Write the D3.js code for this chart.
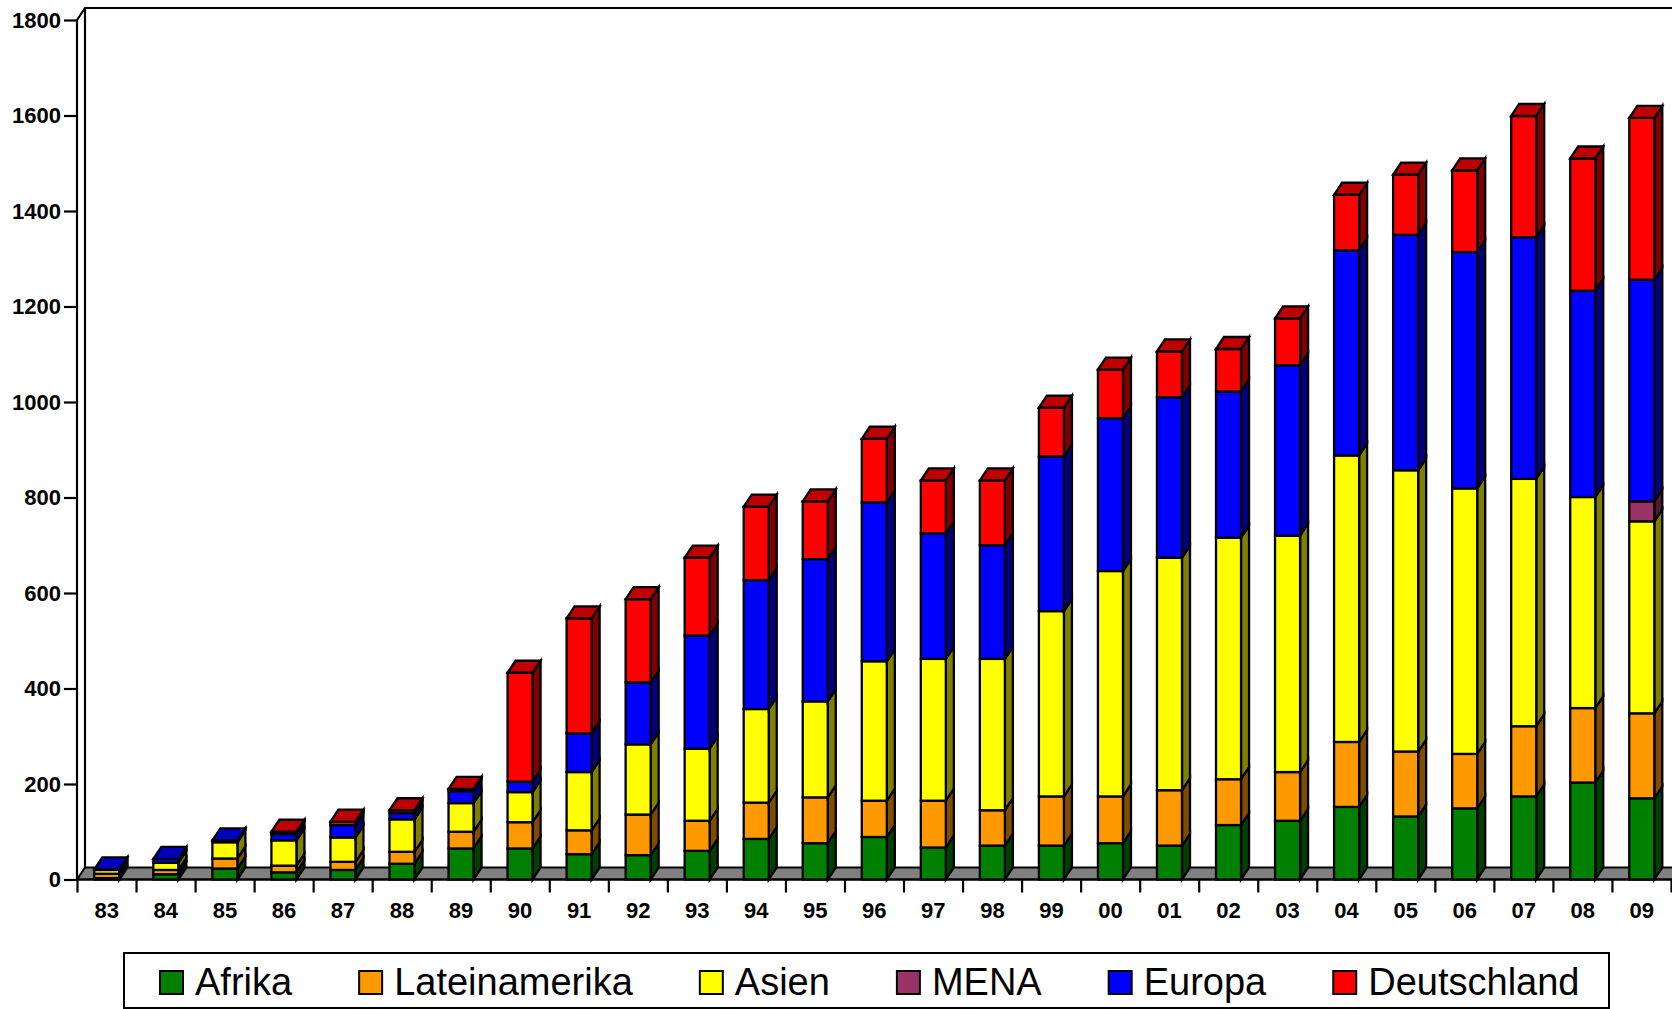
<!DOCTYPE html>
<html>
<head>
<meta charset="utf-8">
<script src="https://cdnjs.cloudflare.com/ajax/libs/d3/7.8.5/d3.min.js"></script>
<style>
	html, body { margin: 0; padding: 0; background: #ffffff; overflow: hidden; }
	svg { display: block; font-family: "Liberation Sans", Arial, sans-serif; }
	.axis text { font-size: 22px; font-weight: bold; fill: #000000; }
	.axis path, .axis line { stroke: #000000; stroke-width: 2.2px; }
	.legend-text { font-size: 38px; fill: #000000; }
</style>
</head>
<body>
<svg id="chart" width="1672" height="1009"></svg>
<script>

const years = ['83','84','85','86','87','88','89','90','91','92','93','94','95','96','97','98','99','00','01','02','03','04','05','06','07','08','09'];

const afrika        = [3,11,23,15,20,33,65,65,53,51,60,85,76,89,67,71,71,76,71,114,123,152,132,149,174,203,170];
const lateinamerika = [9,9,21,14,17,25,35,55,50,85,63,76,96,76,98,74,103,98,116,96,102,136,136,114,147,156,178];
const asien         = [8,15,34,53,51,68,60,63,122,147,151,196,201,292,297,317,388,472,487,506,495,600,589,556,518,442,402];
const mena          = [0,0,0,0,0,0,0,0,0,0,0,0,0,0,0,0,0,0,0,0,0,0,0,0,0,0,42];
const europa        = [1,8,4,13,26,13,25,22,81,130,237,270,298,333,263,238,324,320,336,306,357,430,493,495,506,432,464];
const deutschland   = [0,0,0,5,7,6,5,228,241,174,163,154,121,133,111,136,102,102,96,89,98,116,126,171,254,277,339];

const series_names = ['Afrika','Lateinamerika','Asien','MENA','Europa','Deutschland'];
const series_values = [afrika,lateinamerika,asien,mena,europa,deutschland];
const series_colors = ['#008000','#ff9900','#ffff00','#993366','#0000ff','#ff0000'];

const y_ticks = [0,200,400,600,800,1000,1200,1400,1600,1800];

// depth of the fake 3d
const depth_x = 8, depth_y = 12;

const svg = d3.select('#chart');

const x = d3.scaleBand()
	.domain(years)
	.range([77.3,1671.3])
	.paddingInner(0.576)
	.paddingOuter(0.288);

// tick marks sit between the categories, not on them
const x_edges = d3.scaleLinear()
	.domain([0,years.length])
	.range([77,1671]);

const y = d3.scaleLinear()
	.domain([0,1800])
	.range([879.5,20]);

const shade = function(c,k){
	const rgb = d3.rgb(c);
	return d3.rgb(rgb.r*k,rgb.g*k,rgb.b*k).formatHex();
};

const draw_walls = function(){

	const walls = svg.append('g')
		.attr('fill','none')
		.attr('stroke','#000000')
		.attr('stroke-width',2.2);

	walls.append('path')
		.attr('d',`M${x_edges(0)},${y(0)}L${x_edges(0)+depth_x},${y(0)-depth_y}L1674,${y(0)-depth_y}L1674,${y(0)}Z`)
		.attr('fill','#808080');

	walls.append('path')
		.attr('d',`M${x_edges(0)},${y(1800)}L${x_edges(0)+depth_x},${y(1800)-depth_y}L1674,${y(1800)-depth_y}`);

	walls.append('path')
		.attr('d',`M${x_edges(0)+depth_x},${y(1800)-depth_y}L${x_edges(0)+depth_x},${y(0)-depth_y}`);
};

const draw_axes = function(){

	const y_axis = d3.axisLeft(y)
		.tickValues(y_ticks)
		.tickSize(13)
		.tickPadding(3)
		.tickFormat(d3.format('d'));

	svg.append('g')
		.attr('class','axis')
		.attr('transform',`translate(${x_edges(0)},0)`)
		.call(y_axis)
		.select('.domain').attr('d',`M0,${y(1800)}V${y(0)}`);

	const x_ticks = d3.axisBottom(x_edges)
		.tickValues(d3.range(years.length+1))
		.tickSize(13)
		.tickFormat('');

	svg.append('g')
		.attr('class','axis')
		.attr('transform',`translate(0,${y(0)})`)
		.call(x_ticks)
		.select('.domain').attr('d',`M${x_edges(0)},0H1674`);

	const x_labels = d3.axisBottom(x)
		.tickSize(0)
		.tickPadding(23);

	const label_axis = svg.append('g')
		.attr('class','axis')
		.attr('transform',`translate(0,${y(0)})`)
		.call(x_labels);
	label_axis.select('.domain').remove();
};

const draw_bars = function(){

	const rows = years.map(function(yr,i){
		const row = {year: yr};
		series_names.forEach(function(name,s){ row[name] = series_values[s][i]; });
		return row;
	});

	const stacked = d3.stack().keys(series_names)(rows);
	const bw = x.bandwidth();

	years.forEach(function(yr,i){

		const bar = svg.append('g')
			.attr('class','bar')
			.attr('stroke','#000000')
			.attr('stroke-width',2.3)
			.attr('stroke-linejoin','miter');

		var last = null;

		stacked.forEach(function(layer,s){
			const y0 = layer[i][0], y1 = layer[i][1];
			if(y1 <= y0){ return; }
			last = {s: s, top: y1};

			const x_l = x(yr), x_r = x(yr) + bw;

			bar.append('path')
				.attr('d',`M${x_r},${y(y0)}L${x_r+depth_x},${y(y0)-depth_y}L${x_r+depth_x},${y(y1)-depth_y}L${x_r},${y(y1)}Z`)
				.attr('fill',shade(series_colors[s],0.5));

			bar.append('rect')
				.attr('x',x_l)
				.attr('y',y(y1))
				.attr('width',bw)
				.attr('height',y(y0)-y(y1))
				.attr('fill',series_colors[s]);
		});

		const x_l = x(yr), x_r = x(yr) + bw, y_t = y(last.top);
		bar.append('path')
			.attr('d',`M${x_l},${y_t}L${x_l+depth_x},${y_t-depth_y}L${x_r+depth_x},${y_t-depth_y}L${x_r},${y_t}Z`)
			.attr('fill',shade(series_colors[last.s],0.75));
	});
};

const draw_legend = function(){

	const legend = svg.append('g').attr('class','legend');

	legend.append('rect')
		.attr('x',124)
		.attr('y',953)
		.attr('width',1485)
		.attr('height',55)
		.attr('fill','#ffffff')
		.attr('stroke','#000000')
		.attr('stroke-width',2);

	var cursor = 160;
	series_names.forEach(function(name,s){

		legend.append('rect')
			.attr('x',cursor)
			.attr('y',971)
			.attr('width',23)
			.attr('height',23)
			.attr('fill',series_colors[s])
			.attr('stroke','#000000')
			.attr('stroke-width',2);

		const label = legend.append('text')
			.attr('class','legend-text')
			.attr('x',cursor+35)
			.attr('y',995)
			.text(name);

		cursor = cursor + 35 + label.node().getComputedTextLength() + 67;
	});
};

draw_walls();
draw_axes();
draw_bars();
draw_legend();

</script>
</body>
</html>
